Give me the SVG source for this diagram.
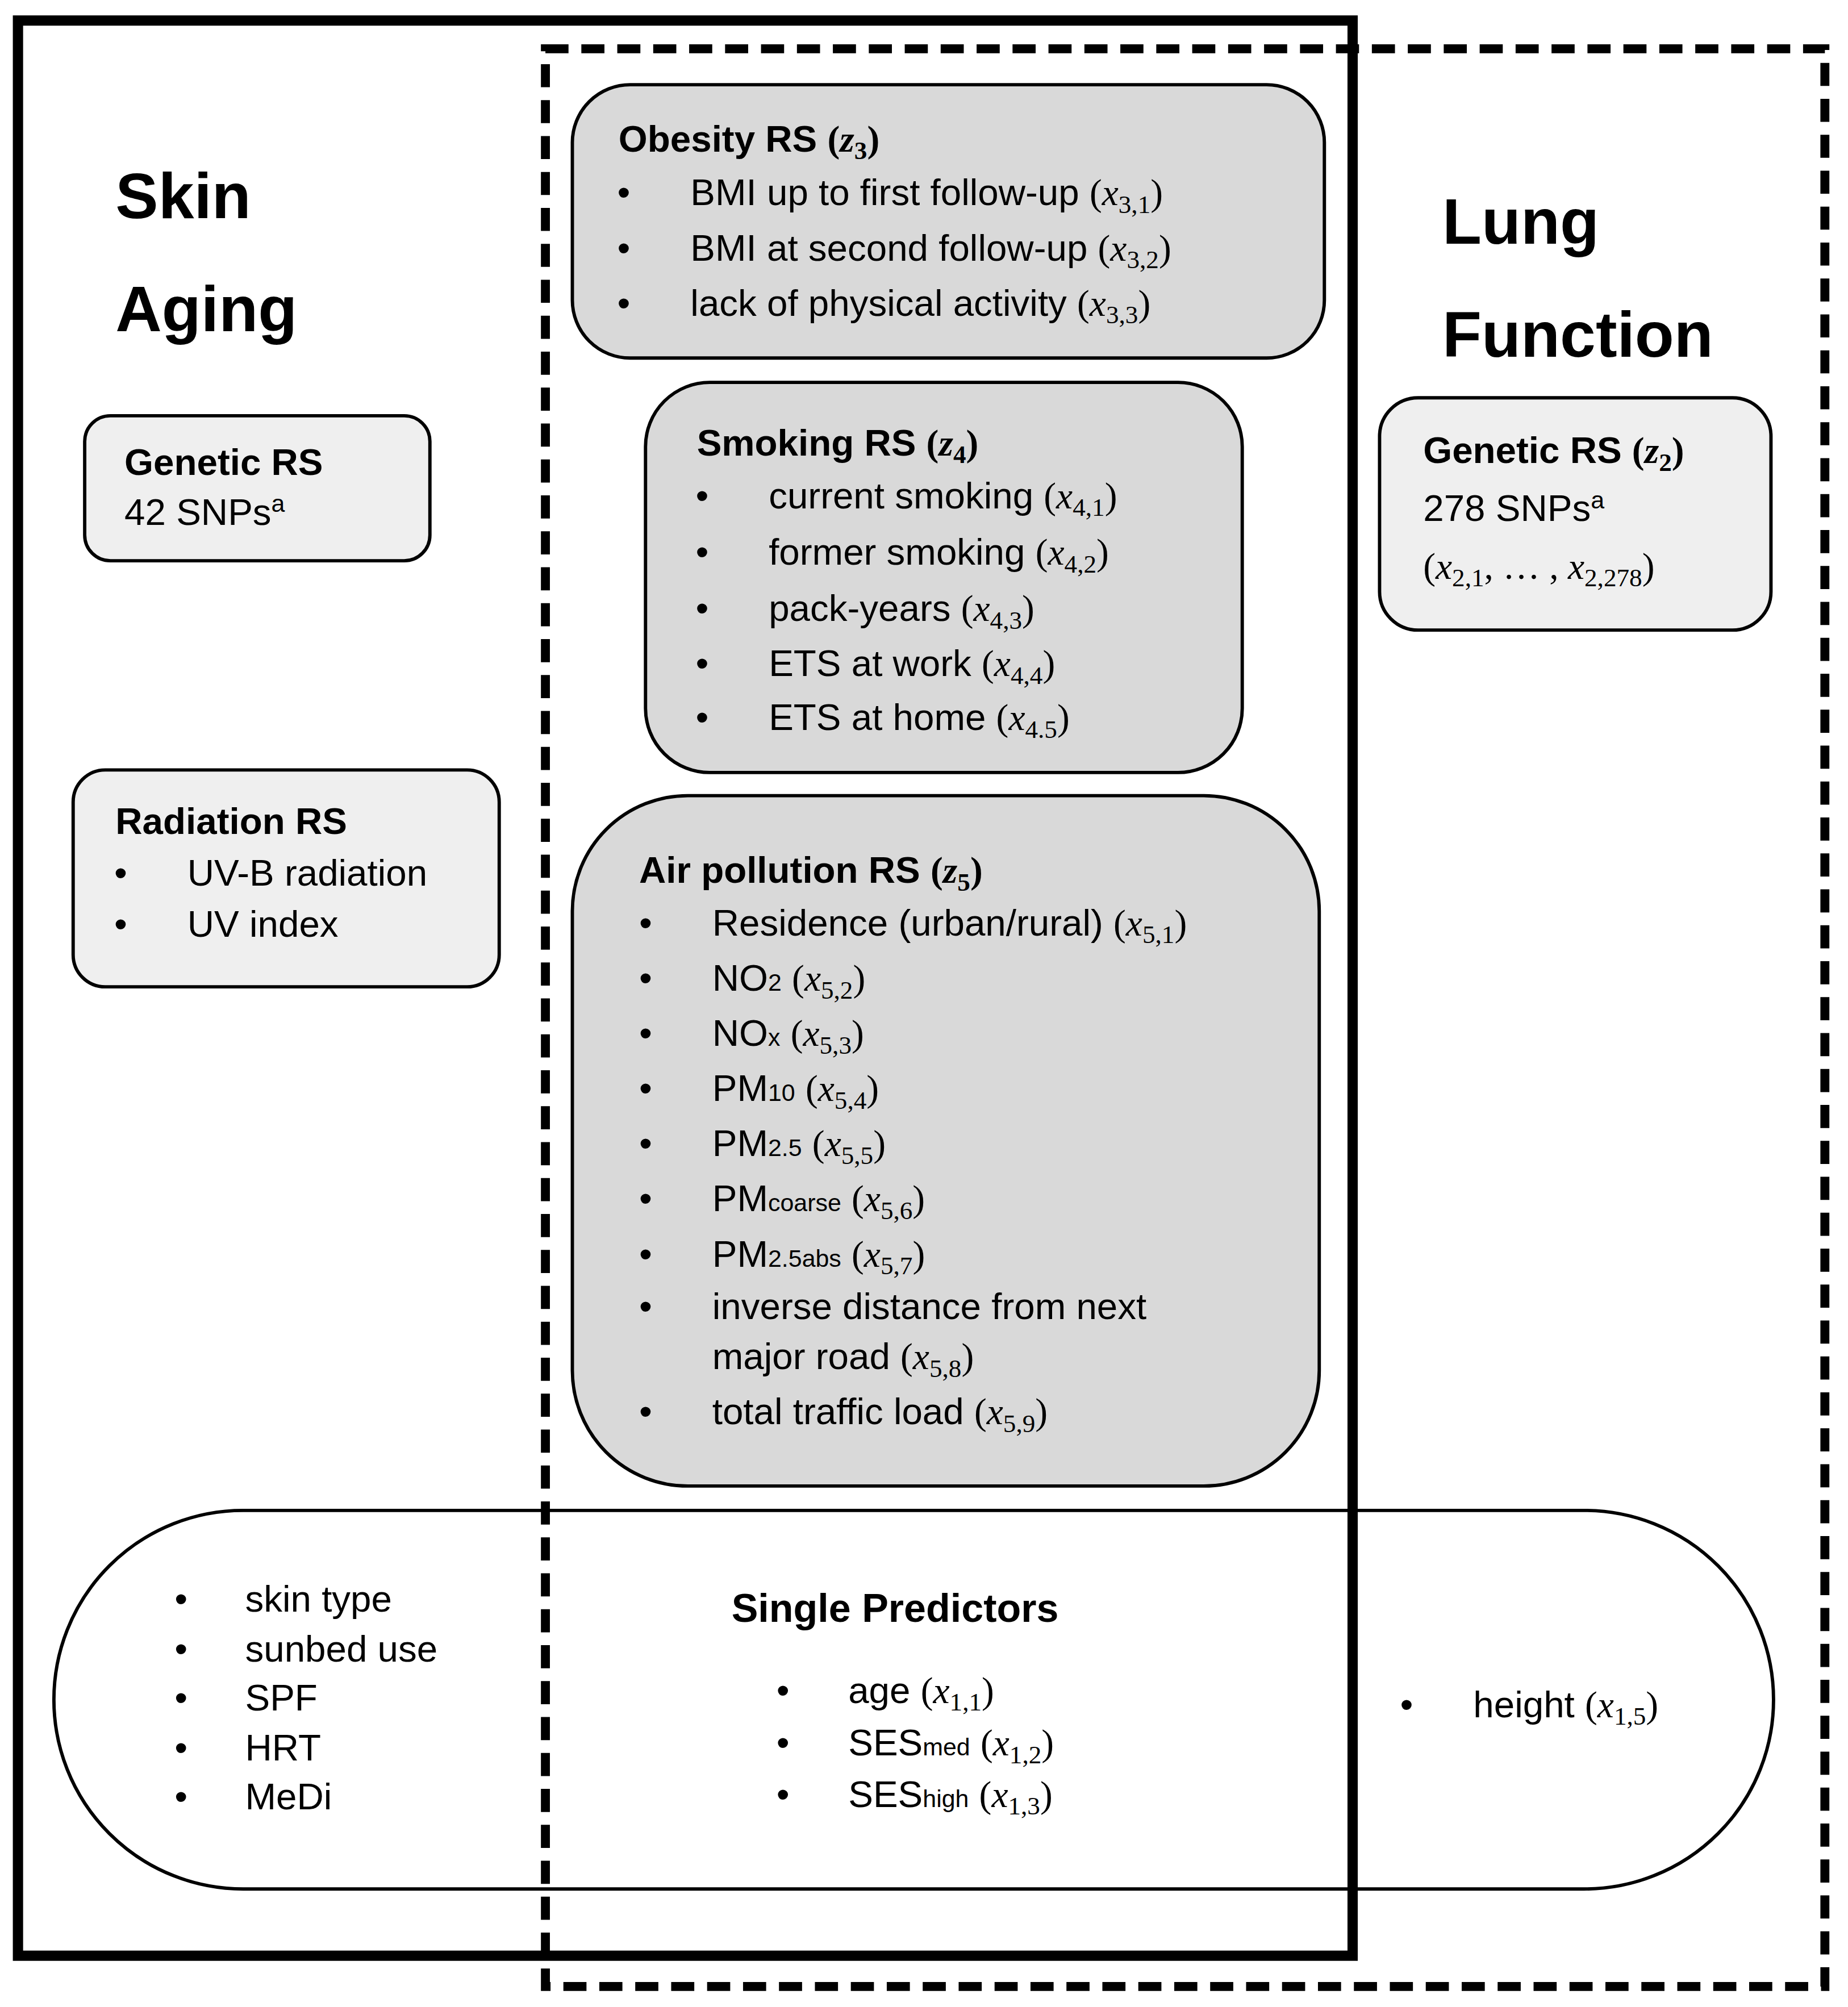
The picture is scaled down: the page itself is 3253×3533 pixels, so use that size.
<svg xmlns="http://www.w3.org/2000/svg" width="3253" height="3533" viewBox="0 0 3253 3533">
<style>
.t{font-family:"Liberation Sans",Arial,sans-serif;font-size:29px;fill:#000}
.b{font-weight:bold}
.big{font-family:"Liberation Sans",Arial,sans-serif;font-size:50px;font-weight:bold}
.m{font-family:"Liberation Serif","DejaVu Serif",serif;font-style:italic}
.p{font-family:"Liberation Serif","DejaVu Serif",serif}
.s{font-size:20px}
.ss{font-size:19px}
.box{stroke:#000;stroke-width:2.6}
.dark{fill:#d9d9d9}
.light{fill:#efefef}
</style>
<rect width="3253" height="3533" fill="#fff"/>
<g transform="scale(2.259)">
<g id="skin-aging">
<rect x="14" y="16" width="1040" height="1508" fill="none" stroke="#000" stroke-width="8"/>
<text class="big" x="90" y="170">Skin</text>
<text class="big" x="90" y="258">Aging</text>
</g>
<g id="lung-function">
<rect x="425" y="38" width="997" height="1510" fill="none" stroke="#000" stroke-width="7" stroke-dasharray="18 10"/>
<text class="big" x="1124" y="190">Lung</text>
<text class="big" x="1124" y="278">Function</text>
</g>
<g id="single-predictors">
<rect x="42" y="1177" width="1340" height="295" rx="147.5" fill="none" class="box"/>
<text class="t"><tspan x="136" y="1256">•</tspan><tspan x="191" y="1256">skin type</tspan>
<tspan x="136" y="1295">•</tspan><tspan x="191" y="1295">sunbed use</tspan>
<tspan x="136" y="1333">•</tspan><tspan x="191" y="1333">SPF</tspan>
<tspan x="136" y="1372">•</tspan><tspan x="191" y="1372">HRT</tspan>
<tspan x="136" y="1410">•</tspan><tspan x="191" y="1410">MeDi</tspan></text>
<text class="t b" x="570" y="1264" style="font-size:31px">Single Predictors</text>
<text class="t" x="605" y="1327">•</text><text class="t" x="661" y="1327">age <tspan class="p">(</tspan><tspan class="m">x</tspan><tspan class="p s" dy="6">1,1</tspan><tspan class="p" dy="-6">)</tspan></text>
<text class="t" x="605" y="1368">•</text><text class="t" x="661" y="1368">SES<tspan class="ss">med</tspan> <tspan class="p">(</tspan><tspan class="m">x</tspan><tspan class="p s" dy="6">1,2</tspan><tspan class="p" dy="-6">)</tspan></text>
<text class="t" x="605" y="1408">•</text><text class="t" x="661" y="1408">SES<tspan class="ss">high</tspan> <tspan class="p">(</tspan><tspan class="m">x</tspan><tspan class="p s" dy="6">1,3</tspan><tspan class="p" dy="-6">)</tspan></text>
<text class="t" x="1091" y="1338">•</text><text class="t" x="1148" y="1338">height <tspan class="p">(</tspan><tspan class="m">x</tspan><tspan class="p s" dy="6">1,5</tspan><tspan class="p" dy="-6">)</tspan></text>
</g>
<g id="obesity-rs">
<rect x="446" y="66" width="586" height="213" rx="45" class="box dark"/>
<text class="t b" x="482" y="118">Obesity RS <tspan class="p">(</tspan><tspan class="m">z</tspan><tspan class="p s" dy="6">3</tspan><tspan class="p" dy="-6">)</tspan></text>
<text class="t" x="481" y="160">•</text><text class="t" x="538" y="160">BMI up to first follow-up <tspan class="p">(</tspan><tspan class="m">x</tspan><tspan class="p s" dy="6">3,1</tspan><tspan class="p" dy="-6">)</tspan></text>
<text class="t" x="481" y="203">•</text><text class="t" x="538" y="203">BMI at second follow-up <tspan class="p">(</tspan><tspan class="m">x</tspan><tspan class="p s" dy="6">3,2</tspan><tspan class="p" dy="-6">)</tspan></text>
<text class="t" x="481" y="246">•</text><text class="t" x="538" y="246">lack of physical activity <tspan class="p">(</tspan><tspan class="m">x</tspan><tspan class="p s" dy="6">3,3</tspan><tspan class="p" dy="-6">)</tspan></text>
</g>
<g id="smoking-rs">
<rect x="503" y="298" width="465" height="304" rx="50" class="box dark"/>
<text class="t b" x="543" y="355">Smoking RS <tspan class="p">(</tspan><tspan class="m">z</tspan><tspan class="p s" dy="6">4</tspan><tspan class="p" dy="-6">)</tspan></text>
<text class="t" x="542" y="396">•</text><text class="t" x="599" y="396">current smoking <tspan class="p">(</tspan><tspan class="m">x</tspan><tspan class="p s" dy="6">4,1</tspan><tspan class="p" dy="-6">)</tspan></text>
<text class="t" x="542" y="440">•</text><text class="t" x="599" y="440">former smoking <tspan class="p">(</tspan><tspan class="m">x</tspan><tspan class="p s" dy="6">4,2</tspan><tspan class="p" dy="-6">)</tspan></text>
<text class="t" x="542" y="484">•</text><text class="t" x="599" y="484">pack-years <tspan class="p">(</tspan><tspan class="m">x</tspan><tspan class="p s" dy="6">4,3</tspan><tspan class="p" dy="-6">)</tspan></text>
<text class="t" x="542" y="527">•</text><text class="t" x="599" y="527">ETS at work <tspan class="p">(</tspan><tspan class="m">x</tspan><tspan class="p s" dy="6">4,4</tspan><tspan class="p" dy="-6">)</tspan></text>
<text class="t" x="542" y="569">•</text><text class="t" x="599" y="569">ETS at home <tspan class="p">(</tspan><tspan class="m">x</tspan><tspan class="p s" dy="6">4.5</tspan><tspan class="p" dy="-6">)</tspan></text>
</g>
<g id="air-pollution-rs">
<rect x="446" y="620" width="582" height="538" rx="90" class="box dark"/>
<text class="t b" x="498" y="688">Air pollution RS <tspan class="p">(</tspan><tspan class="m">z</tspan><tspan class="p s" dy="6">5</tspan><tspan class="p" dy="-6">)</tspan></text>
<text class="t" x="498" y="729">•</text><text class="t" x="555" y="729">Residence (urban/rural) <tspan class="p">(</tspan><tspan class="m">x</tspan><tspan class="p s" dy="6">5,1</tspan><tspan class="p" dy="-6">)</tspan></text>
<text class="t" x="498" y="772">•</text><text class="t" x="555" y="772">NO<tspan class="ss">2</tspan> <tspan class="p">(</tspan><tspan class="m">x</tspan><tspan class="p s" dy="6">5,2</tspan><tspan class="p" dy="-6">)</tspan></text>
<text class="t" x="498" y="815">•</text><text class="t" x="555" y="815">NO<tspan class="ss">x</tspan> <tspan class="p">(</tspan><tspan class="m">x</tspan><tspan class="p s" dy="6">5,3</tspan><tspan class="p" dy="-6">)</tspan></text>
<text class="t" x="498" y="858">•</text><text class="t" x="555" y="858">PM<tspan class="ss">10</tspan> <tspan class="p">(</tspan><tspan class="m">x</tspan><tspan class="p s" dy="6">5,4</tspan><tspan class="p" dy="-6">)</tspan></text>
<text class="t" x="498" y="901">•</text><text class="t" x="555" y="901">PM<tspan class="ss">2.5</tspan> <tspan class="p">(</tspan><tspan class="m">x</tspan><tspan class="p s" dy="6">5,5</tspan><tspan class="p" dy="-6">)</tspan></text>
<text class="t" x="498" y="944">•</text><text class="t" x="555" y="944">PM<tspan class="ss">coarse</tspan> <tspan class="p">(</tspan><tspan class="m">x</tspan><tspan class="p s" dy="6">5,6</tspan><tspan class="p" dy="-6">)</tspan></text>
<text class="t" x="498" y="987">•</text><text class="t" x="555" y="987">PM<tspan class="ss">2.5abs</tspan> <tspan class="p">(</tspan><tspan class="m">x</tspan><tspan class="p s" dy="6">5,7</tspan><tspan class="p" dy="-6">)</tspan></text>
<text class="t" x="498" y="1028">•</text><text class="t" x="555" y="1028">inverse distance from next</text>
<text class="t" x="555" y="1067">major road <tspan class="p">(</tspan><tspan class="m">x</tspan><tspan class="p s" dy="6">5,8</tspan><tspan class="p" dy="-6">)</tspan></text>
<text class="t" x="498" y="1110">•</text><text class="t" x="555" y="1110">total traffic load <tspan class="p">(</tspan><tspan class="m">x</tspan><tspan class="p s" dy="6">5,9</tspan><tspan class="p" dy="-6">)</tspan></text>
</g>
<g id="genetic-rs-skin">
<rect x="66" y="324" width="269" height="113" rx="20" class="box light"/>
<text class="t b" x="97" y="370">Genetic RS</text>
<text class="t" x="97" y="409">42 SNPs<tspan class="ss" dy="-10">a</tspan></text>
</g>
<g id="radiation-rs">
<rect x="57" y="600" width="332" height="169" rx="25" class="box light"/>
<text class="t b" x="90" y="650">Radiation RS</text>
<text class="t" x="89" y="690">•</text><text class="t" x="146" y="690">UV-B radiation</text>
<text class="t" x="89" y="730">•</text><text class="t" x="146" y="730">UV index</text>
</g>
<g id="genetic-rs-lung">
<rect x="1075" y="310" width="305" height="181" rx="30" class="box light"/>
<text class="t b" x="1109" y="361">Genetic RS <tspan class="p">(</tspan><tspan class="m">z</tspan><tspan class="p s" dy="6">2</tspan><tspan class="p" dy="-6">)</tspan></text>
<text class="t" x="1109" y="406">278 SNPs<tspan class="ss" dy="-10">a</tspan></text>
<text class="t p" x="1109" y="451">(<tspan class="m">x</tspan><tspan class="s" dy="6">2,1</tspan><tspan dy="-6">, … , </tspan><tspan class="m">x</tspan><tspan class="s" dy="6">2,278</tspan><tspan dy="-6">)</tspan></text>
</g>
<g id="connectors"></g>
</g>
</svg>
